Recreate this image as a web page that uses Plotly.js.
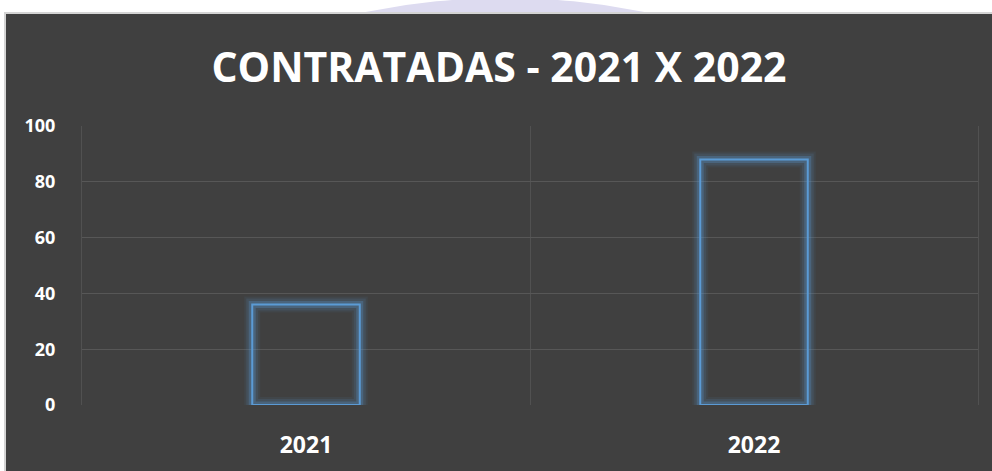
<!DOCTYPE html>
<html>
<head>
<meta charset="utf-8">
<script src="https://cdn.plot.ly/plotly-3.0.1.min.js"></script>
<style>
html,body{margin:0;padding:0;background:#ffffff;width:992px;height:471px;overflow:hidden;position:relative;}
#haloclip{position:absolute;left:0;top:0;width:992px;height:14px;overflow:hidden;}
#halo{position:absolute;left:-195px;top:-2px;width:1400px;height:1400px;border-radius:50%;background:#dddbf0;}
#frame{position:absolute;left:4px;top:12px;width:990px;height:462px;background:#d4d4d4;}
#chart{position:absolute;left:6px;top:14px;width:986px;height:457px;}
</style>
</head>
<body>
<div id="haloclip"><div id="halo"></div></div>
<div id="frame"></div>
<div id="chart"></div>
<script>
const categories = ['2021', '2022'];
const values = [36, 88];
const yTicks = [0, 20, 40, 60, 80, 100];
const titleText = 'CONTRATADAS - 2021 X 2022';

const glowLayers = [
  {w: 16, c: 'rgba(91,155,213,0.07)'},
  {w: 12, c: 'rgba(91,155,213,0.12)'},
  {w: 7, c: 'rgba(91,155,213,0.28)'}
];
const traces = glowLayers.map(g => ({
  type: 'bar', x: categories, y: values, width: 0.24,
  marker: {color: 'rgba(0,0,0,0)', line: {color: g.c, width: g.w}},
  hoverinfo: 'skip', showlegend: false
}));
traces.push({
  type: 'bar', x: categories, y: values, width: 0.24,
  marker: {color: 'rgba(0,0,0,0)', line: {color: '#5b9bd5', width: 2}},
  showlegend: false
});

const font = "'Open Sans', 'DejaVu Sans', sans-serif";
const vline = 'rgba(255,255,255,0.09)';
const layout = {
  width: 986, height: 457,
  paper_bgcolor: '#404040', plot_bgcolor: '#404040',
  margin: {l: 76, r: 14, t: 112, b: 66},
  barmode: 'overlay',
  title: {text: '<b>' + titleText + '</b>', font: {family: font, size: 41, color: '#ffffff'},
          x: 0.5, xanchor: 'center', yref: 'container', y: 0.882, yanchor: 'middle'},
  xaxis: {type: 'category', tickson: 'boundaries', showgrid: true,
          gridcolor: vline, gridwidth: 1,
          ticks: '', showline: false, zeroline: false, ticklabelstandoff: 24,
          tickfont: {family: font, size: 23, color: '#ffffff', weight: 'bold'}},
  yaxis: {range: [0, 100], tickvals: yTicks, ticktext: yTicks.map(v => '<b>' + v + '</b>'),
          showgrid: true, gridcolor: '#575757', gridwidth: 1, zeroline: false,
          showline: true, mirror: true, linecolor: vline, linewidth: 1,
          ticks: '', ticklabelstandoff: 22,
          tickfont: {family: font, size: 18, color: '#ffffff'}},
  bargap: 0.76
};
Plotly.newPlot('chart', traces, layout, {displayModeBar: false, staticPlot: true});
</script>
</body>
</html>
